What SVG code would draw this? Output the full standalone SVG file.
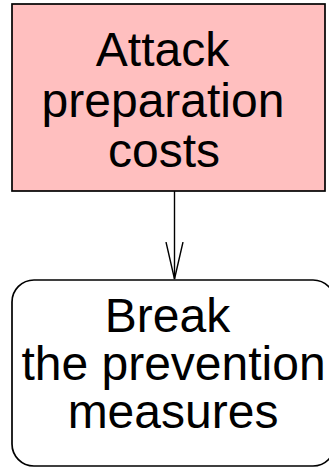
<svg xmlns="http://www.w3.org/2000/svg" width="329" height="468" viewBox="0 0 329 468">
  <style>
    .box { stroke: #000; stroke-width: 1.7; }
    .goal { fill: #ffbfbf; }
    .step { fill: #ffffff; }
    .label { font-family: "Liberation Sans", Arial, sans-serif; font-size: 48px; fill: #000; text-anchor: middle; }
    .edge { fill: none; stroke: #000; stroke-width: 1.4; }
  </style>
  <defs>
    <!-- open "vee" head: 37px long, 17px wide -->
    <marker id="vee" markerUnits="userSpaceOnUse" markerWidth="40" markerHeight="20" refX="37" refY="9.5" orient="auto">
      <path d="M0,1 L37,9.5 L0,18" fill="none" stroke="#000" stroke-width="1.4"/>
    </marker>
  </defs>
  <rect width="329" height="468" fill="#ffffff"/>

  <g id="connectors">
    <path class="edge" d="M174.5,191 L174.5,279" marker-end="url(#vee)"/>
  </g>

  <g id="attack-preparation-costs">
    <rect class="box goal" x="12" y="4" width="313" height="187"/>
    <text class="label" x="162.5" y="66">Attack</text>
    <text class="label" x="163" y="117">preparation</text>
    <text class="label" x="164" y="167">costs</text>
  </g>

  <g id="break-prevention-measures">
    <rect class="box step" x="12" y="280" width="323" height="186" rx="22" ry="22"/>
    <text class="label" x="167.5" y="332">Break</text>
    <text class="label" x="173.5" y="380">the prevention</text>
    <text class="label" x="173" y="428">measures</text>
  </g>
</svg>
